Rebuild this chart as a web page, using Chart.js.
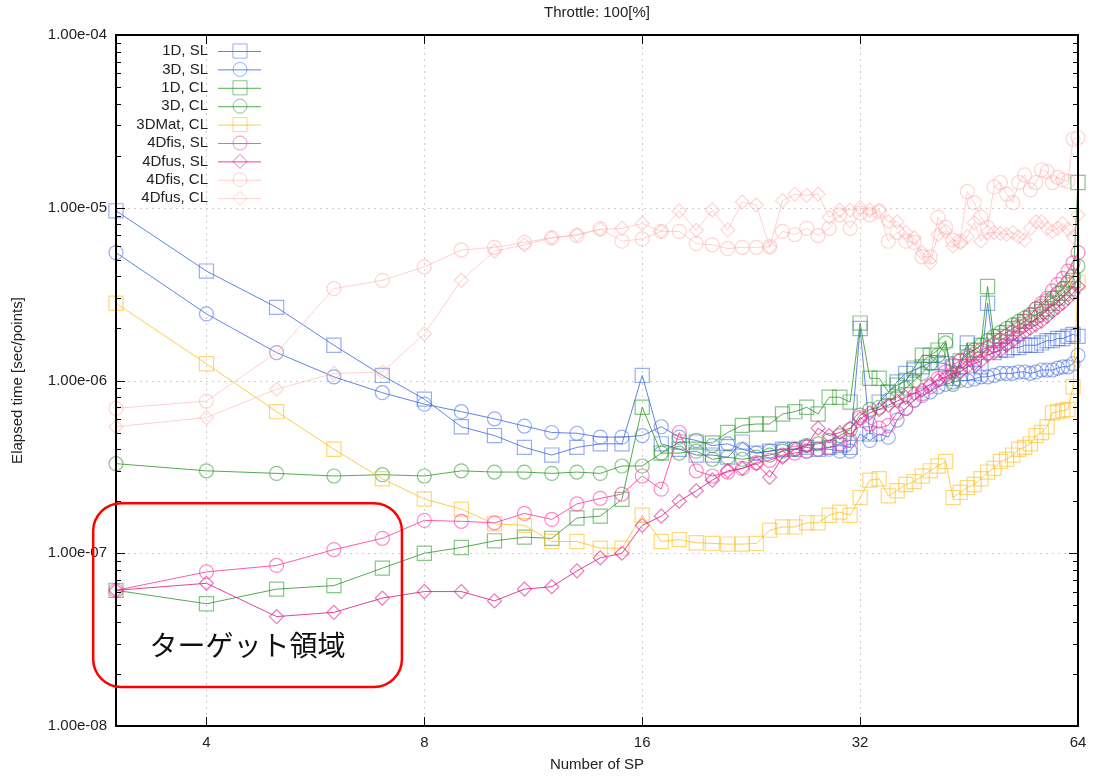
<!DOCTYPE html>
<html>
<head>
<meta charset="utf-8">
<script src="https://cdn.jsdelivr.net/npm/chart.js@4.4.0/dist/chart.umd.min.js"></script>
<style>
html, body { margin: 0; padding: 0; background: #fff; }
#wrap { width: 1095px; height: 776px; }
</style>
</head>
<body>
<div id="wrap"><canvas id="chartCanvas" width="1095" height="776"></canvas></div>
<script>
// Number of SP (x values)
const nodeCounts = [3, 4, 5, 6, 7, 8, 9, 10, 11, 12, 13, 14, 15, 16, 17, 18, 19, 20, 21, 22,
  23, 24, 25, 26, 27, 28, 29, 30, 31, 32, 33, 34, 35, 36, 37, 38, 39, 40, 41, 42,
  43, 44, 45, 46, 47, 48, 49, 50, 51, 52, 53, 54, 55, 56, 57, 58, 59, 60, 61, 62, 63, 64];

// Elapsed time [sec/points], one array per series
const sl1D = [9.6e-6, 4.3e-6, 2.65e-6, 1.6e-6, 1.07e-6, 7.8e-7, 5.4e-7, 4.8e-7, 4.1e-7, 3.7e-7,
  4.1e-7, 4.3e-7, 4.3e-7, 1.07e-6, 4.3e-7, 4.0e-7, 3.7e-7, 3.7e-7, 3.6e-7, 4.4e-7,
  3.8e-7, 3.9e-7, 4.0e-7, 4.0e-7, 4.1e-7, 4.0e-7, 4.1e-7, 4.2e-7, 4.1e-7, 2.0e-6,
  4.9e-7, 7.5e-7, 8.5e-7, 9.8e-7, 1.1e-6, 1.15e-6, 1.2e-6, 1.27e-6, 1.27e-6, 1.25e-6,
  1.2e-6, 1.2e-6, 1.65e-6, 1.1e-6, 1.2e-6, 2.8e-6, 1.45e-6, 1.5e-6, 1.5e-6, 1.55e-6,
  1.55e-6, 1.6e-6, 1.6e-6, 1.6e-6, 1.65e-6, 1.7e-6, 1.7e-6, 1.75e-6, 1.75e-6, 1.8e-6, 1.85e-6, 1.8e-6];
const sl3D = [5.5e-6, 2.43e-6, 1.45e-6, 1.05e-6, 8.5e-7, 7.3e-7, 6.6e-7, 6.0e-7, 5.45e-7, 5.0e-7,
  4.95e-7, 4.7e-7, 4.7e-7, 4.8e-7, 5.4e-7, 4.7e-7, 4.5e-7, 4.2e-7, 4.3e-7, 4.0e-7,
  3.8e-7, 3.9e-7, 4.0e-7, 4.0e-7, 3.9e-7, 4.0e-7, 4.0e-7, 3.9e-7, 3.9e-7, 4.9e-7,
  4.5e-7, 4.9e-7, 4.7e-7, 5.9e-7, 6.9e-7, 7.7e-7, 8.2e-7, 8.6e-7, 9.2e-7, 9.5e-7,
  9.8e-7, 1.0e-6, 1.0e-6, 1.02e-6, 1.05e-6, 1.05e-6, 1.07e-6, 1.1e-6, 1.1e-6, 1.1e-6,
  1.12e-6, 1.12e-6, 1.1e-6, 1.12e-6, 1.15e-6, 1.15e-6, 1.15e-6, 1.18e-6, 1.2e-6, 1.2e-6, 1.25e-6, 1.4e-6];
const cl1D = [6.1e-8, 5.1e-8, 6.2e-8, 6.5e-8, 8.2e-8, 1.0e-7, 1.08e-7, 1.18e-7, 1.24e-7, 1.22e-7,
  1.6e-7, 1.64e-7, 2.05e-7, 7.0e-7, 3.8e-7, 4.4e-7, 4.4e-7, 4.35e-7, 5.0e-7, 5.5e-7,
  5.6e-7, 5.6e-7, 6.4e-7, 6.6e-7, 7.0e-7, 6.4e-7, 8.0e-7, 8.0e-7, 7.5e-7, 2.15e-6,
  1.03e-6, 1.03e-6, 8.6e-7, 9.4e-7, 1.0e-6, 1.18e-6, 1.4e-6, 1.4e-6, 1.5e-6, 1.7e-6,
  1.03e-6, 1.3e-6, 1.45e-6, 1.5e-6, 1.6e-6, 3.5e-6, 1.7e-6, 1.8e-6, 1.9e-6, 2.0e-6,
  2.1e-6, 2.2e-6, 2.3e-6, 2.4e-6, 2.5e-6, 2.6e-6, 2.8e-6, 3.0e-6, 3.2e-6, 3.4e-6, 3.8e-6, 1.4e-5];
const cl3D = [3.3e-7, 3.0e-7, 2.9e-7, 2.8e-7, 2.85e-7, 2.8e-7, 3.0e-7, 2.95e-7, 2.95e-7, 2.9e-7,
  2.95e-7, 2.9e-7, 3.2e-7, 3.2e-7, 3.8e-7, 3.8e-7, 3.9e-7, 3.5e-7, 3.6e-7, 3.5e-7,
  3.6e-7, 3.7e-7, 3.9e-7, 4.0e-7, 4.2e-7, 4.3e-7, 4.5e-7, 4.8e-7, 5.2e-7, 6.3e-7,
  6.8e-7, 7.0e-7, 7.7e-7, 8.0e-7, 9.0e-7, 1.0e-6, 1.1e-6, 1.25e-6, 1.4e-6, 1.65e-6,
  9.5e-7, 1.3e-6, 1.4e-6, 1.5e-6, 1.6e-6, 1.7e-6, 1.8e-6, 1.9e-6, 2.0e-6, 2.1e-6,
  2.2e-6, 2.3e-6, 2.4e-6, 2.6e-6, 2.7e-6, 2.9e-6, 3.0e-6, 3.2e-6, 3.4e-6, 3.7e-6, 4.0e-6, 4.6e-6];
const cl3DMat = [2.8e-6, 1.25e-6, 6.6e-7, 4.0e-7, 2.7e-7, 2.06e-7, 1.8e-7, 1.48e-7, 1.45e-7, 1.17e-7,
  1.17e-7, 1.07e-7, 1.07e-7, 1.66e-7, 1.17e-7, 1.2e-7, 1.15e-7, 1.14e-7, 1.13e-7, 1.13e-7,
  1.14e-7, 1.36e-7, 1.42e-7, 1.42e-7, 1.5e-7, 1.5e-7, 1.66e-7, 1.73e-7, 1.66e-7, 2.1e-7,
  2.65e-7, 2.7e-7, 2.15e-7, 2.3e-7, 2.5e-7, 2.6e-7, 2.8e-7, 3.0e-7, 3.2e-7, 3.4e-7,
  2.1e-7, 2.25e-7, 2.4e-7, 2.5e-7, 2.7e-7, 2.95e-7, 3.1e-7, 3.4e-7, 3.5e-7, 3.7e-7,
  4.0e-7, 4.1e-7, 4.3e-7, 4.8e-7, 5.0e-7, 5.4e-7, 6.5e-7, 6.6e-7, 6.7e-7, 6.8e-7, 9.2e-7, 3.7e-6];
const fisSL4D = [6.1e-8, 7.8e-8, 8.5e-8, 1.05e-7, 1.22e-7, 1.55e-7, 1.53e-7, 1.5e-7, 1.7e-7, 1.57e-7,
  1.93e-7, 2.08e-7, 2.2e-7, 2.8e-7, 2.35e-7, 5.0e-7, 3.0e-7, 2.8e-7, 2.95e-7, 3.1e-7,
  3.35e-7, 3.45e-7, 3.7e-7, 3.8e-7, 3.9e-7, 4.0e-7, 4.1e-7, 4.3e-7, 4.5e-7, 6.1e-7,
  5.6e-7, 5.3e-7, 5.5e-7, 6.5e-7, 6.9e-7, 7.7e-7, 8.4e-7, 9.2e-7, 1.03e-6, 1.12e-6,
  1.23e-6, 1.3e-6, 1.35e-6, 1.42e-6, 1.5e-6, 1.55e-6, 1.6e-6, 1.7e-6, 1.8e-6, 1.9e-6,
  2.05e-6, 2.2e-6, 2.4e-6, 2.6e-6, 2.8e-6, 3.0e-6, 3.3e-6, 3.6e-6, 3.9e-6, 4.3e-6, 4.8e-6, 5.5e-6];
const fusSL4D = [6.1e-8, 6.7e-8, 4.3e-8, 4.55e-8, 5.5e-8, 6.0e-8, 6.0e-8, 5.3e-8, 6.2e-8, 6.4e-8,
  7.9e-8, 9.4e-8, 1.0e-7, 1.45e-7, 1.64e-7, 2.0e-7, 2.3e-7, 2.65e-7, 3.0e-7, 3.1e-7,
  3.3e-7, 2.75e-7, 3.6e-7, 4.0e-7, 4.2e-7, 5.3e-7, 4.8e-7, 5.0e-7, 5.3e-7, 6.0e-7,
  6.5e-7, 6.8e-7, 7.2e-7, 7.6e-7, 8.0e-7, 8.4e-7, 8.8e-7, 9.5e-7, 1.0e-6, 1.05e-6,
  1.1e-6, 1.12e-6, 1.2e-6, 1.25e-6, 1.3e-6, 1.4e-6, 1.45e-6, 1.5e-6, 1.6e-6, 1.7e-6,
  1.8e-6, 1.9e-6, 2.0e-6, 2.1e-6, 2.2e-6, 2.35e-6, 2.5e-6, 2.65e-6, 2.8e-6, 3.0e-6, 3.2e-6, 3.5e-6];
const fisCL4D = [6.9e-7, 7.6e-7, 1.45e-6, 3.4e-6, 3.8e-6, 4.55e-6, 5.7e-6, 5.9e-6, 6.3e-6, 6.7e-6,
  6.9e-6, 7.55e-6, 6.4e-6, 6.6e-6, 7.3e-6, 7.3e-6, 6.2e-6, 6.1e-6, 5.8e-6, 5.9e-6,
  5.9e-6, 5.95e-6, 7.3e-6, 7.0e-6, 7.6e-6, 6.9e-6, 7.6e-6, 9.1e-6, 7.6e-6, 9.35e-6,
  9.1e-6, 9.5e-6, 6.4e-6, 7.2e-6, 6.4e-6, 6.3e-6, 5.2e-6, 5.2e-6, 8.8e-6, 7.7e-6,
  6.5e-6, 6.4e-6, 1.24e-5, 1.07e-5, 8.8e-6, 7.7e-6, 1.32e-5, 1.4e-5, 1.2e-5, 1.07e-5,
  1.4e-5, 1.55e-5, 1.27e-5, 1.4e-5, 1.66e-5, 1.62e-5, 1.4e-5, 1.5e-5, 1.45e-5, 1.42e-5, 2.5e-5, 2.55e-5];
const fusCL4D = [5.4e-7, 6.1e-7, 8.9e-7, 1.1e-6, 1.12e-6, 1.86e-6, 3.8e-6, 5.6e-6, 6.1e-6, 6.7e-6,
  7.0e-6, 7.5e-6, 7.6e-6, 8.1e-6, 7.3e-6, 9.6e-6, 7.4e-6, 9.7e-6, 7.45e-6, 1.08e-5,
  1.04e-5, 5.9e-6, 1.1e-5, 1.2e-5, 1.18e-5, 1.2e-5, 8.8e-6, 9.7e-6, 9.7e-6, 1.0e-5,
  9.7e-6, 9.7e-6, 8.3e-6, 8.3e-6, 7.2e-6, 6.7e-6, 5.5e-6, 4.8e-6, 7.0e-6, 7.3e-6,
  6.0e-6, 6.3e-6, 6.8e-6, 8.2e-6, 6.4e-6, 7.2e-6, 7.2e-6, 7.1e-6, 7.0e-6, 7.2e-6,
  6.8e-6, 6.5e-6, 7.6e-6, 8.3e-6, 8.3e-6, 7.6e-6, 7.3e-6, 7.6e-6, 8.1e-6, 7.5e-6, 6.8e-6, 9.1e-6];

// Axis ticks
const xTicks = [4, 8, 16, 32, 64];
const yTicks = [1e-8, 1e-7, 1e-6, 1e-5, 1e-4];

// Series settings: label, data, marker, radius, line colour, marker colour
const series = [
  { label: "1D, SL", data: sl1D, marker: "rect", r: 10, line: "rgba(70,110,225,0.85)", mark: "rgba(70,110,225,0.55)" },
  { label: "3D, SL", data: sl3D, marker: "circle", r: 7, line: "rgba(70,110,225,0.85)", mark: "rgba(70,110,225,0.55)" },
  { label: "1D, CL", data: cl1D, marker: "rect", r: 10, line: "rgba(40,150,40,0.8)", mark: "rgba(40,150,40,0.55)" },
  { label: "3D, CL", data: cl3D, marker: "circle", r: 7, line: "rgba(40,150,40,0.8)", mark: "rgba(40,150,40,0.55)" },
  { label: "3DMat, CL", data: cl3DMat, marker: "rect", r: 10, line: "rgba(255,190,30,0.8)", mark: "rgba(255,190,30,0.6)" },
  { label: "4Dfis, SL", data: fisSL4D, marker: "circle", r: 7, line: "rgba(255,60,165,0.85)", mark: "rgba(255,60,165,0.6)" },
  { label: "4Dfus, SL", data: fusSL4D, marker: "rectRot", r: 7, line: "rgba(225,30,140,0.85)", mark: "rgba(225,30,140,0.6)" },
  { label: "4Dfis, CL", data: fisCL4D, marker: "circle", r: 7, line: "rgba(255,170,170,0.55)", mark: "rgba(255,170,170,0.5)" },
  { label: "4Dfus, CL", data: fusCL4D, marker: "rectRot", r: 7, line: "rgba(255,170,170,0.55)", mark: "rgba(255,170,170,0.5)" }
];

const FONT = "'Liberation Sans', Arial, sans-serif";

function fmtExp(v) {
  return v.toExponential(2).replace(/e([+-])(\d)$/, "e$10$2");
}

// Grid, gnuplot-style ticks, border, titles, legend and the target box
const framePlugin = {
  id: "frame",
  beforeDatasetsDraw(chart) {
    const { ctx, chartArea: a, scales: { x, y } } = chart;
    ctx.save();
    ctx.strokeStyle = "#cfcfcf";
    ctx.lineWidth = 1;
    ctx.setLineDash([2, 4]);
    ctx.beginPath();
    for (const v of xTicks) {
      if (v >= 64) continue;
      const px = Math.round(x.getPixelForValue(v)) + 0.5;
      ctx.moveTo(px, a.top); ctx.lineTo(px, a.bottom);
    }
    for (const v of yTicks) {
      if (v <= 1e-8 || v >= 1e-4) continue;
      const py = Math.round(y.getPixelForValue(v)) + 0.5;
      ctx.moveTo(a.left, py); ctx.lineTo(a.right, py);
    }
    ctx.stroke();
    ctx.restore();
  },
  afterDraw(chart) {
    const { ctx, chartArea: a, scales: { x, y } } = chart;
    ctx.save();
    // ticks (inward, mirrored)
    ctx.strokeStyle = "#000";
    ctx.lineWidth = 1;
    ctx.beginPath();
    for (const v of xTicks) {
      if (v >= 64) continue;
      const px = Math.round(x.getPixelForValue(v)) + 0.5;
      ctx.moveTo(px, a.bottom); ctx.lineTo(px, a.bottom - 9);
      ctx.moveTo(px, a.top); ctx.lineTo(px, a.top + 9);
    }
    for (let e = -8; e < -4; e++) {
      for (let m = 1; m <= 9; m++) {
        const py = Math.round(y.getPixelForValue(m * Math.pow(10, e))) + 0.5;
        const len = m === 1 ? 9 : 5;
        ctx.moveTo(a.left, py); ctx.lineTo(a.left + len, py);
        ctx.moveTo(a.right, py); ctx.lineTo(a.right - len, py);
      }
    }
    ctx.stroke();
    ctx.lineWidth = 2;
    ctx.strokeRect(a.left, a.top, a.right - a.left, a.bottom - a.top);

    // titles
    ctx.fillStyle = "#222";
    ctx.font = "15px " + FONT;
    ctx.textAlign = "center";
    ctx.textBaseline = "middle";
    const cx = (a.left + a.right) / 2;
    ctx.fillText("Throttle: 100[%]", cx, 13);
    ctx.fillText("Number of SP", cx, 765);
    ctx.save();
    ctx.translate(18, (a.top + a.bottom) / 2);
    ctx.rotate(-Math.PI / 2);
    ctx.fillText("Elapsed time [sec/points]", 0, 0);
    ctx.restore();

    // legend
    series.forEach((s, i) => {
      const ly = a.top + 16 + i * 18.4;
      ctx.fillStyle = "#222";
      ctx.textAlign = "right";
      ctx.fillText(s.label, a.left + 92, ly);
      ctx.strokeStyle = s.line;
      ctx.lineWidth = 1;
      ctx.beginPath();
      ctx.moveTo(a.left + 102, ly + 0.5); ctx.lineTo(a.left + 145, ly + 0.5);
      ctx.stroke();
      ctx.strokeStyle = s.mark;
      ctx.fillStyle = "rgba(0,0,0,0)";
      Chart.helpers.drawPoint(ctx, { pointStyle: s.marker, radius: s.r, rotation: 0, borderWidth: 1 }, a.left + 124, ly);
    });

    // target region box
    const bx0 = x.getPixelForValue(2.79), bx1 = x.getPixelForValue(7.45);
    const by0 = y.getPixelForValue(1.95e-7), by1 = y.getPixelForValue(1.68e-8);
    ctx.strokeStyle = "#ff0000";
    ctx.lineWidth = 2.5;
    ctx.beginPath();
    ctx.roundRect(bx0, by0, bx1 - bx0, by1 - by0, 28);
    ctx.stroke();
    ctx.fillStyle = "#111";
    ctx.font = "28px 'Noto Sans CJK JP', sans-serif";
    ctx.textAlign = "center";
    ctx.fillText("ターゲット領域", x.getPixelForValue(4.56), y.getPixelForValue(2.94e-8));
    ctx.restore();
  }
};

const datasets = series.map((s, i) => ({
  label: s.label,
  data: nodeCounts.map((n, k) => ({ x: n, y: s.data[k] })),
  borderColor: s.line,
  borderWidth: 1,
  pointStyle: s.marker,
  pointRadius: s.r,
  pointBorderColor: s.mark,
  pointBorderWidth: 1.2,
  pointBackgroundColor: "rgba(255,255,255,0)",
  tension: 0,
  clip: false,
  order: series.length - i
}));

new Chart(document.getElementById("chartCanvas"), {
  type: "line",
  data: { datasets },
  options: {
    responsive: false,
    animation: false,
    layout: { padding: { left: 0, top: 35, right: 17, bottom: 0 } },
    plugins: { legend: { display: false }, tooltip: { enabled: false }, title: { display: false } },
    scales: {
      x: {
        type: "logarithmic",
        min: 3,
        max: 64,
        grid: { display: false, drawTicks: false },
        border: { display: false },
        afterBuildTicks: (scale) => { scale.ticks = xTicks.map(v => ({ value: v })); },
        afterFit: (scale) => { scale.height = 50; },
        ticks: {
          color: "#222",
          font: { family: FONT, size: 15 },
          padding: 8,
          maxRotation: 0,
          autoSkip: false,
          callback: (v) => String(v)
        }
      },
      y: {
        type: "logarithmic",
        min: 1e-8,
        max: 1e-4,
        grid: { display: false, drawTicks: false },
        border: { display: false },
        afterBuildTicks: (scale) => { scale.ticks = yTicks.map(v => ({ value: v })); },
        afterFit: (scale) => { scale.width = 116; },
        ticks: {
          color: "#222",
          font: { family: FONT, size: 15 },
          padding: 9,
          autoSkip: false,
          callback: (v) => fmtExp(v)
        }
      }
    }
  },
  plugins: [framePlugin]
});
</script>
</body>
</html>
